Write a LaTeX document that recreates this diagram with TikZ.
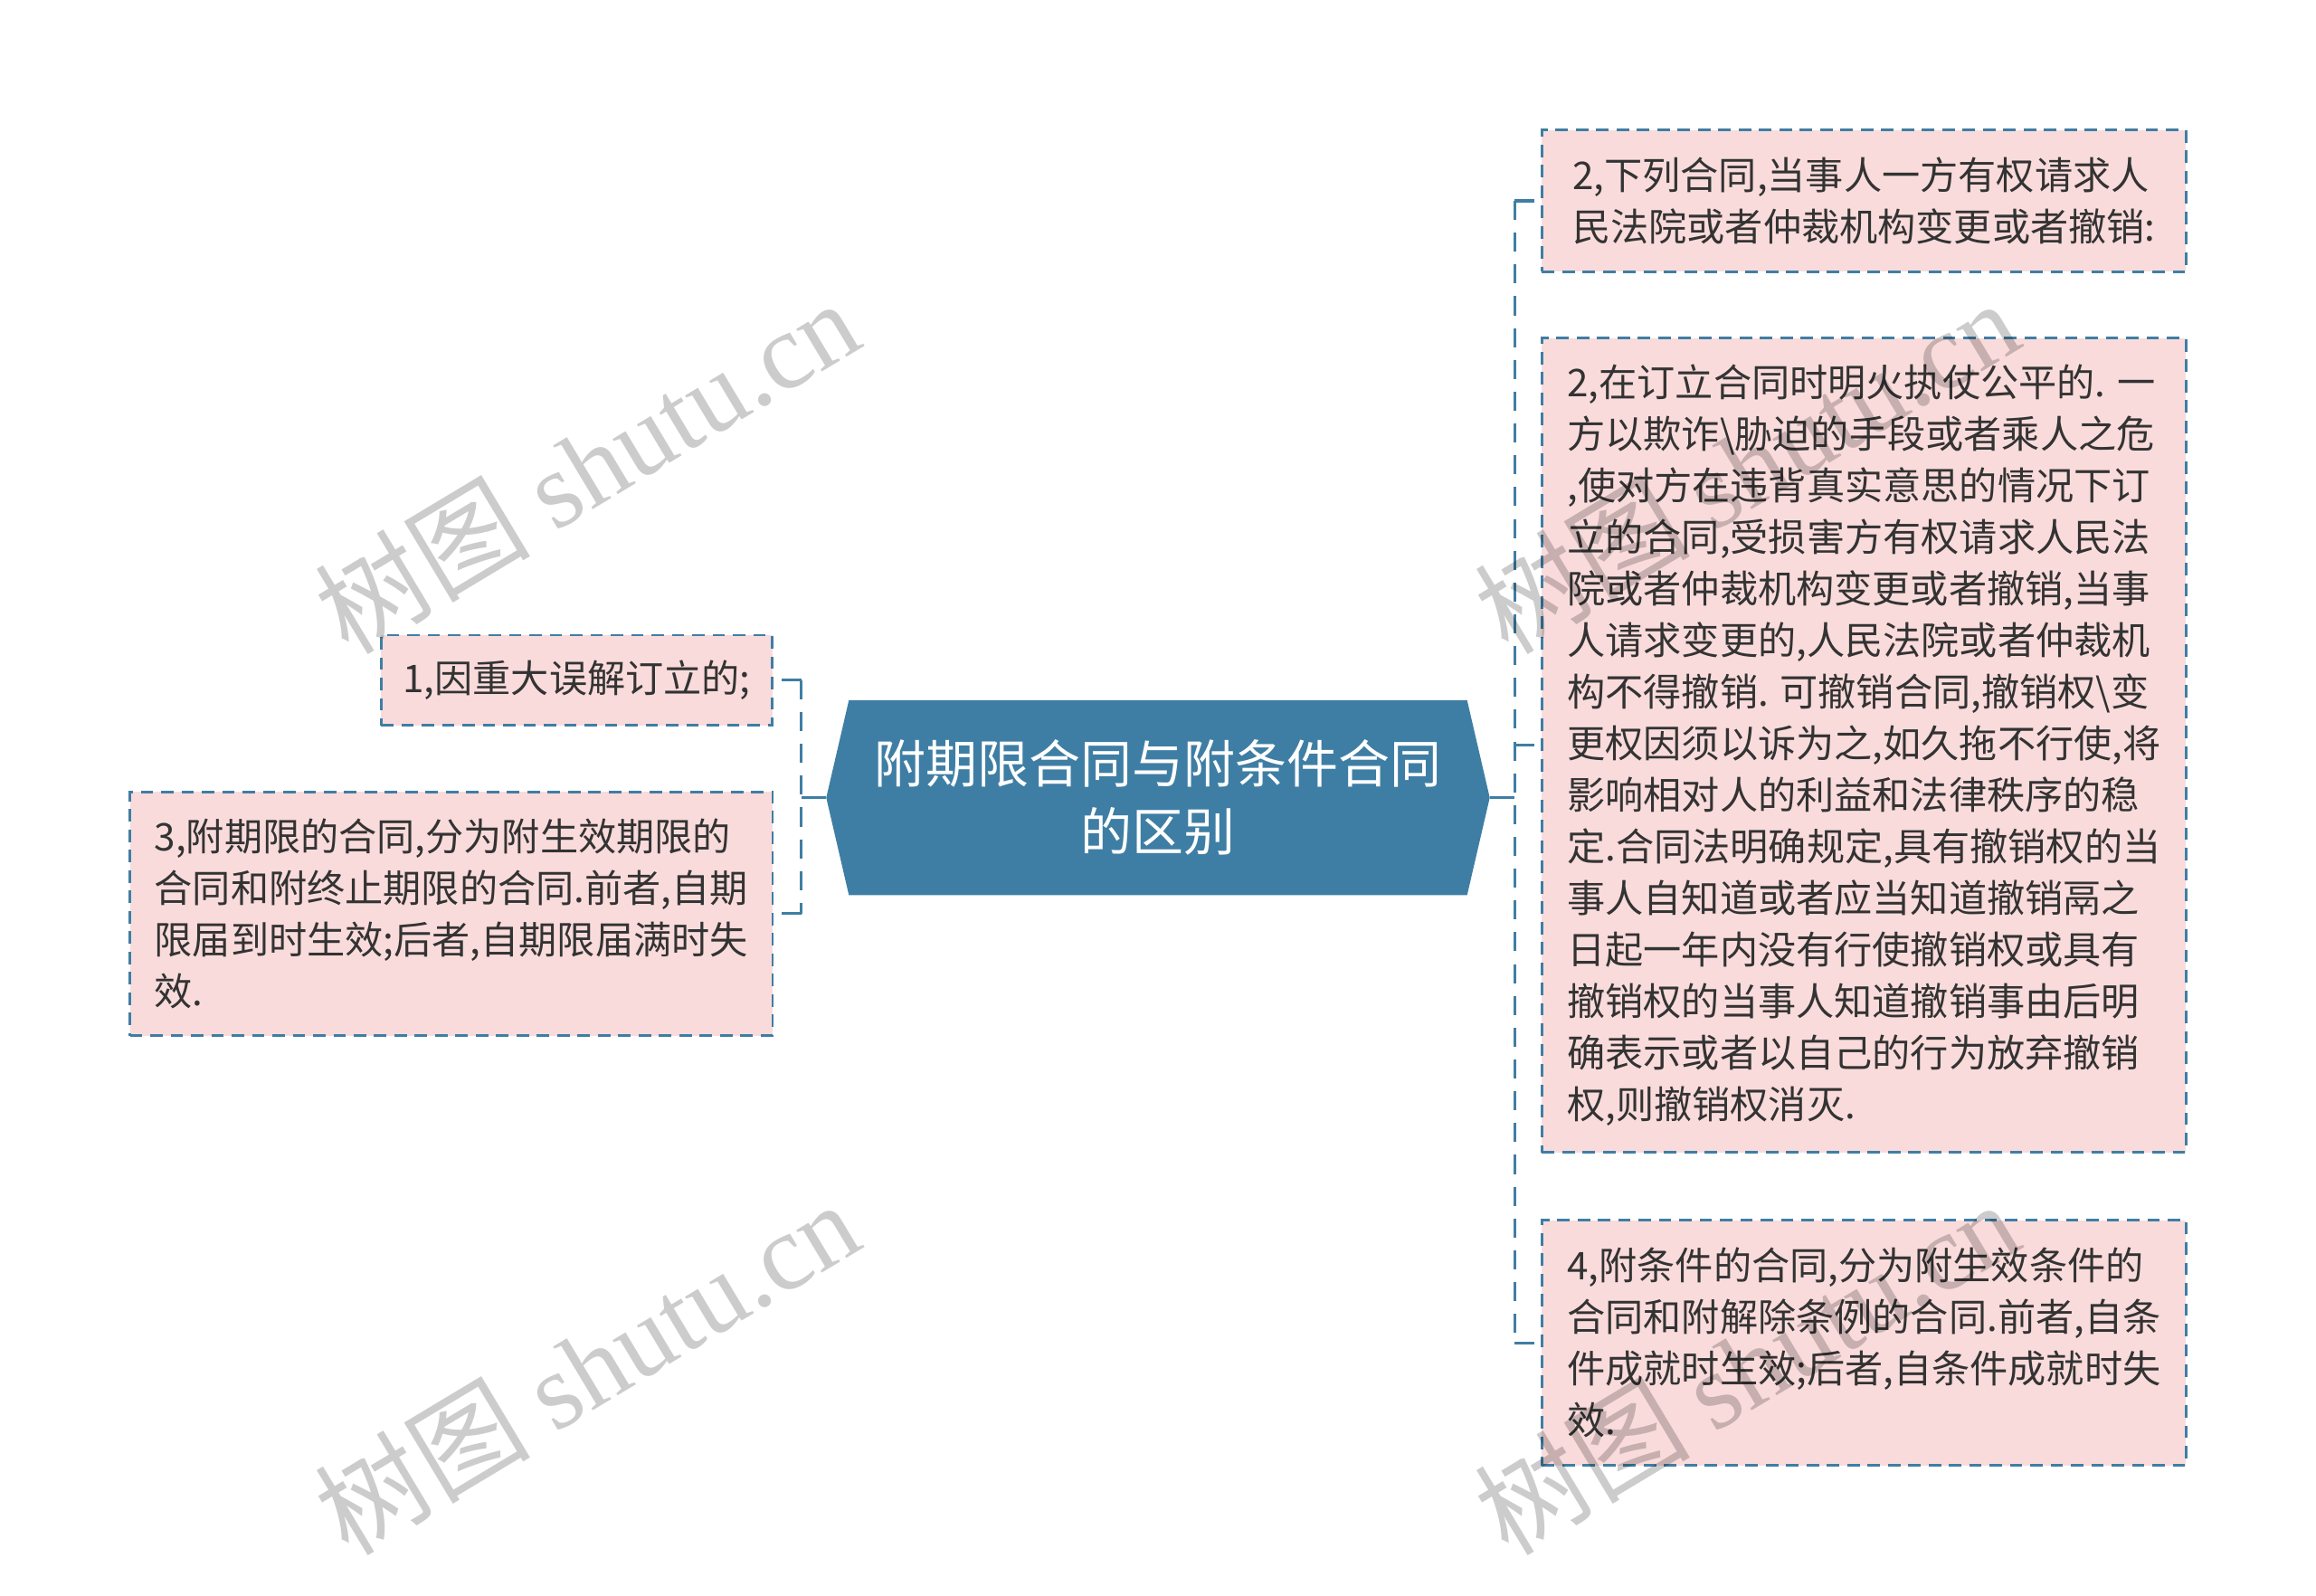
\documentclass[tikz,border=0pt]{standalone}
\usepackage{fontspec}
\setmainfont{Noto Sans CJK SC}
\newfontfamily\wmlatin{Liberation Serif}
\usepackage{xcolor}
\usepackage{tikz}
\usetikzlibrary{positioning, calc, backgrounds}
\definecolor{topicBlue}{RGB}{63, 126, 164}
\definecolor{leafPink}{RGB}{250, 219, 219}
\definecolor{leafText}{RGB}{51, 51, 51}

\begin{document}
\begin{tikzpicture}[
            x=0.01633cm, y=-0.01633cm,
            % Central topic (hexagon is filled on the background layer)
            topic/.style={
                minimum width=7.32cm,
                minimum height=2.14cm,
                inner sep=0pt,
                align=center,
                text=white,
                font=\fontsize{16.2}{21.3}\selectfont
            },
            leaf/.style={
                draw=topicBlue,
                line width=0.8pt,
                dash pattern=on 3.9pt off 2.5pt,
                fill=leafPink,
                text=leafText,
                align=left,
                inner sep=0pt,
                font=\fontsize{12}{16.2}\selectfont
            },
            stem/.style={
                draw=topicBlue,
                line width=0.9pt
            },
            branch/.style={
                stem,
                dash pattern=on 6pt off 4pt
            },
            watermark/.style={
                text=black,
                opacity=0.2,
                rotate=31,
                font=\fontsize{34}{34}\selectfont
            }
        ]

        \useasboundingbox (0,0) rectangle (1568,1080);

        % --- Nodes ---
        \node [topic] (centre) at (784,540) {附期限合同与附条件合同\\的区别};

        \node [leaf, minimum width=7.12cm, minimum height=1.568cm] (r1) at (1262,136)
            {2,下列合同,当事人一方有权请求人\\民法院或者仲裁机构变更或者撤销:};
        \node [leaf, minimum width=7.12cm, minimum height=9.0cm] (r2) at (1262,504.5)
            {2,在订立合同时明火执仗公平的. 一\\
             方以欺诈\textbackslash 胁迫的手段或者乘人之危\\
             ,使对方在违背真实意思的情况下订\\
             立的合同,受损害方有权请求人民法\\
             院或者仲裁机构变更或者撤销,当事\\
             人请求变更的,人民法院或者仲裁机\\
             构不得撤销. 可撤销合同,撤销权\textbackslash 变\\
             更权因须以诉为之,如久拖不行使,将\\
             影响相对人的利益和法律秩序的稳\\
             定.合同法明确规定,具有撤销权的当\\
             事人自知道或者应当知道撤销鬲之\\
             日起一年内没有行使撤销权或具有\\
             撤销权的当事人知道撤销事由后明\\
             确表示或者以自己的行为放弃撤销\\
             权,则撤销权消灭.};
        \node [leaf, minimum width=7.12cm, minimum height=2.711cm] (r3) at (1262,909)
            {4,附条件的合同,分为附生效条件的\\
             合同和附解除条例的合同.前者,自条\\
             件成就时生效;后者,自条件成就时失\\
             效.};

        \node [leaf, minimum width=4.327cm, minimum height=0.996cm] (l1) at (390.5,460.5)
            {1,因重大误解订立的;};
        \node [leaf, minimum width=7.104cm, minimum height=2.694cm] (l3) at (305.5,618.5)
            {3,附期限的合同,分为附生效期限的\\
             合同和附终止期限的合同.前者,自期\\
             限届到时生效;后者,自期限届满时失\\
             效.};

        % --- Topic shape ---
        \begin{scope}[on background layer]
            \fill [topicBlue] (centre.west) -- ([xshift=0.25cm]centre.north west)
                -- ([xshift=-0.25cm]centre.north east) -- (centre.east)
                -- ([xshift=-0.25cm]centre.south east) -- ([xshift=0.25cm]centre.south west)
                -- cycle;
        \end{scope}

        % --- Edges ---
        \draw [stem] (centre.east) -- ++(17,0) coordinate (rj);
        \draw [stem] (centre.west) -- ++(-17,0) coordinate (lj);
        \draw [branch] (rj |- r1.west) -- (rj |- r3.west);
        \draw [branch] (lj |- l1.east) -- (lj |- l3.east);
        \foreach \leafname in {r1, r2, r3}
            \draw [branch] (rj |- \leafname.west) -- (\leafname.west);
        \foreach \leafname in {l1, l3}
            \draw [branch] (lj |- \leafname.east) -- (\leafname.east);

        % --- Watermarks ---
        \foreach \wx/\wy in {397/315, 397/925, 1182/315, 1182/925}
            \node [watermark] (wm-\wx-\wy) at (\wx,\wy) {树图 {\wmlatin shutu.cn}};

        \end{tikzpicture}
\end{document}
